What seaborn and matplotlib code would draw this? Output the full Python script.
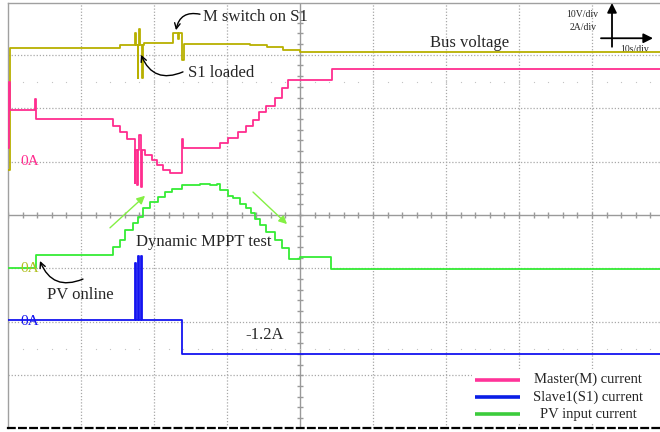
import numpy as np
import matplotlib
matplotlib.use("Agg")
import matplotlib.pyplot as plt
import seaborn as sns

# ---------------- data ----------------
# time axis: seconds from the left edge of the screen (10 s/div)
master_t = [0.00, 0.14, 0.34, 3.70, 3.84, 14.38, 15.34, 16.30, 17.33, 17.45,
            17.67, 17.80, 18.01, 18.19, 18.32, 18.77, 19.73, 20.41, 21.23,
            22.19, 23.84, 23.97, 29.04, 30.14, 31.51, 32.60, 33.56, 34.38,
            35.34, 36.58, 37.53, 38.36, 44.38, 89.32]
master_a = [0.52, 3.00, 1.95, 2.36, 1.61, 1.35, 1.09, 0.86, -0.79, 0.45,
            -0.86, 0.45, 1.01, -0.94, 0.45, 0.26, 0.07, -0.11, -0.30,
            -0.41, 0.86, 0.52, 0.71, 0.90, 1.12, 1.35, 1.57, 1.84,
            2.10, 2.40, 2.77, 3.07, 3.48, 3.48]

slave_t = [0.00, 17.40, 17.48, 17.80, 17.88, 18.22, 18.30, 23.84, 89.32]
slave_a = [0.05, 2.20, 0.05, 2.47, 0.05, 2.47, 0.05, -1.2, -1.2]

pv_t = [0.00, 3.84, 14.38, 15.34, 16.03, 17.12, 17.81, 18.49, 19.45, 20.55,
        21.51, 22.47, 23.84, 26.30, 27.67, 28.63, 29.04, 30.14, 30.82, 31.78,
        32.60, 33.29, 33.84, 34.52, 35.34, 36.58, 37.53, 38.49, 40.00, 44.25,
        89.32]
pv_a = [0.00, 0.49, 0.79, 1.05, 1.42, 1.69, 1.91, 2.25, 2.47, 2.66,
        2.85, 2.96, 3.11, 3.15, 3.11, 3.15, 2.92, 2.73, 2.62, 2.43,
        2.25, 2.06, 1.84, 1.61, 1.35, 1.05, 0.75, 0.34, 0.41, -0.04,
        -0.04]

bus_t = [0.00, 0.21, 15.34, 17.40, 17.52, 17.74, 17.86, 18.01, 18.13, 18.36,
         18.48, 18.63, 22.60, 23.29, 23.43, 23.84, 24.11, 30.82, 33.15, 35.48,
         37.67, 40.00, 89.32]
bus_v = [25.4, 48.3, 48.8, 51.1, 48.8, 42.7, 48.8, 51.8, 48.8, 42.7,
         48.8, 49.2, 51.1, 50.0, 51.1, 46.0, 49.1, 49.1, 48.8, 48.5,
         47.9, 47.6, 47.6]

# channel settings: units per division and position of the zero marker (div)
CURRENT_PER_DIV = 2.0
VOLT_PER_DIV = 10.0
SEC_PER_DIV = 10.0
MASTER_ZERO, PV_ZERO, SLAVE_ZERO, BUS_ZERO = 1.0, -1.0, -2.0, -1.7

legend_labels = ["Master(M) current", "Slave1(S1) current", "PV input current"]

C_BUS = "#b8b000"
C_MASTER = "#ff2d8f"
C_SLAVE = "#1414f0"
C_PV = "#35ec35"
C_GRID = "#a8a8a8"


def to_div(vals, per_div, zero):
    return np.asarray(vals, dtype=float) / per_div + zero


sns.set_style("white")
plt.rcParams["font.family"] = ["Liberation Serif", "DejaVu Serif"]

fig = plt.figure(figsize=(6.6, 4.32), dpi=100)
ax = fig.add_axes([8 / 660, 4 / 432, 652 / 660, 425 / 432])
ax.set_xlim(0, 652 * SEC_PER_DIV / 73)
ax.set_ylim(-213 / 53.4, 212 / 53.4)
ax.set_xticks([])
ax.set_yticks([])

# ---------------- graticule ----------------
for gx in [10, 20, 30, 50, 60, 70, 80]:
    ax.axvline(gx, color=C_GRID, lw=0.9, ls=(0, (1, 1.5)), zorder=1)
for gy in [-3, -2, -1, 1, 2, 3]:
    ax.axhline(gy, color=C_GRID, lw=0.9, ls=(0, (1, 1.5)), zorder=1)
ax.axvline(40, color="#9a9a9a", lw=1.0, zorder=1)
ax.axhline(0, color="#9a9a9a", lw=1.0, zorder=1)
tick_t = np.arange(0, 90, 2.0)
ax.vlines(tick_t, -0.055, 0.055, color="#9a9a9a", lw=1.0, zorder=1)
tick_y = np.arange(-3.8, 4.0, 0.2)
ax.hlines(tick_y, 40 - 0.42, 40 + 0.42, color="#9a9a9a", lw=1.0, zorder=1)
for gy in [-2.5, 2.5]:
    ax.plot(tick_t, np.full_like(tick_t, gy), ls="none", marker="s", ms=0.8,
            mew=0, color="#c4c4c4", zorder=1)

ax.spines["right"].set_visible(False)
for side in ["left", "top"]:
    ax.spines[side].set_color("#a0a0a0")
    ax.spines[side].set_linewidth(1.0)
ax.spines["bottom"].set_color("black")
ax.spines["bottom"].set_linewidth(1.6)
ax.spines["bottom"].set_linestyle((0, (3, 2)))

# ---------------- traces ----------------
traces = [
    (bus_t, to_div(bus_v, VOLT_PER_DIV, BUS_ZERO), C_BUS),
    (master_t, to_div(master_a, CURRENT_PER_DIV, MASTER_ZERO), C_MASTER),
    (pv_t, to_div(pv_a, CURRENT_PER_DIV, PV_ZERO), C_PV),
    (slave_t, to_div(slave_a, CURRENT_PER_DIV, SLAVE_ZERO), C_SLAVE),
]
for tt, yy, col in traces:
    sns.lineplot(x=tt, y=yy, ax=ax, color=col, lw=1.3, drawstyle="steps-post",
                 estimator=None, sort=False, legend=False, zorder=3)

# ---------------- text ----------------
ax.text(1.64, MASTER_ZERO, "0A", color=C_MASTER, fontsize=11, va="center", zorder=4)
ax.text(1.64, PV_ZERO, "0A", color="#b0c020", fontsize=11, va="center", zorder=4)
ax.text(1.64, SLAVE_ZERO, "0A", color=C_SLAVE, fontsize=11, va="center", zorder=2)

ax.text(26.71, 3.71, "M switch on S1", fontsize=12, va="center", ha="left", zorder=4)
ax.text(24.66, 2.66, "S1 loaded", fontsize=12, va="center", ha="left", zorder=4)
ax.text(63.29, 3.22, "Bus voltage", fontsize=12, va="center", ha="center", zorder=4)
ax.text(26.85, -0.51, "Dynamic MPPT test", fontsize=12, va="center", ha="center", zorder=4)
ax.text(9.86, -1.50, "PV online", fontsize=12, va="center", ha="center", zorder=4)
ax.text(35.21, -2.25, "-1.2A", fontsize=12, va="center", ha="center", zorder=4)

ax.text(78.63, 3.75, "10V/div", fontsize=7, va="center", ha="center", zorder=4)
ax.text(78.77, 3.52, "2A/div", fontsize=7, va="center", ha="center", zorder=4)
ax.text(85.89, 3.09, "10s/div", fontsize=7, va="center", ha="center", zorder=2)

# curved pointers
curved = dict(arrowstyle="->", color="black", lw=1.0, shrinkA=0, shrinkB=0)
ax.annotate("", xy=(23.01, 3.46), xytext=(26.3, 3.76),
            arrowprops=dict(curved, connectionstyle="arc3,rad=0.5"), zorder=4)
ax.annotate("", xy=(18.22, 3.00), xytext=(23.97, 2.68),
            arrowprops=dict(curved, connectionstyle="arc3,rad=-0.5"), zorder=4)
ax.annotate("", xy=(4.38, -0.86), xytext=(10.27, -1.20),
            arrowprops=dict(curved, connectionstyle="arc3,rad=-0.5"), zorder=4)

# MPPT direction arrows
green = dict(arrowstyle="-|>", color="#84f044", lw=1.0, mutation_scale=12,
             shrinkA=0, shrinkB=0)
ax.annotate("", xy=(18.77, 0.36), xytext=(13.97, -0.24), arrowprops=green, zorder=4)
ax.annotate("", xy=(38.22, -0.17), xytext=(33.56, 0.43), arrowprops=green, zorder=4)

# scale axes symbol
scale = dict(arrowstyle="-|>", color="black", lw=1.3, mutation_scale=14,
             shrinkA=0, shrinkB=0)
ax.annotate("", xy=(82.74, 3.97), xytext=(82.74, 3.15), arrowprops=scale, zorder=4)
ax.annotate("", xy=(88.36, 3.31), xytext=(81.23, 3.31), arrowprops=scale, zorder=4)

# ---------------- legend ----------------
ax.add_patch(plt.Rectangle((0.712, 0.010), 0.29, 0.128, transform=ax.transAxes,
                           facecolor="white", edgecolor="none", zorder=5))
legend_colors = ["#ff3399", "#0a1ee6", "#3ccc3c"]
for i, (lab, col) in enumerate(zip(legend_labels, legend_colors)):
    yf = 0.114 - i * 0.041
    ax.plot([0.716, 0.785], [yf, yf], transform=ax.transAxes, color=col, lw=2.6,
            solid_capstyle="butt", zorder=6)
    ax.text(0.8896, yf, lab, transform=ax.transAxes, fontsize=10.5,
            ha="center", va="center", zorder=6)

fig.savefig("out.png", dpi=100)
